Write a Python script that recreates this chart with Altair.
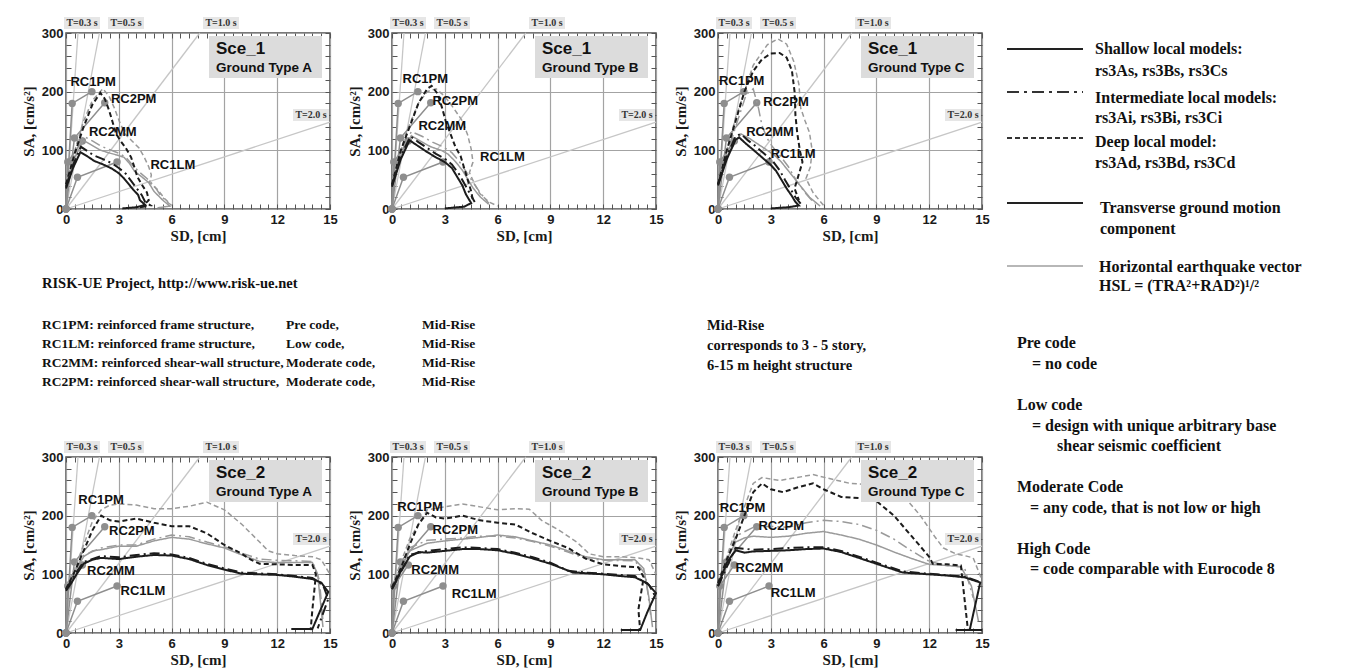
import altair as alt
import pandas as pd

W, H = 264, 176
SANS = "Liberation Sans"
SERIF = "Liberation Serif"

# ---------------- axis ticks ----------------
X_TICKS = [0, 3, 6, 9, 12, 15]
Y_TICKS = [0, 100, 200, 300]
X_MINOR = [0, 0.5, 1, 1.5, 2, 2.5, 3, 3.5, 4, 4.5, 5, 5.5, 6, 6.5, 7, 7.5, 8, 8.5, 9, 9.5,
           10, 10.5, 11, 11.5, 12, 12.5, 13, 13.5, 14, 14.5, 15]
Y_MINOR = [0, 20, 40, 60, 80, 100, 120, 140, 160, 180, 200, 220, 240, 260, 280, 300]

# ---------------- period lines ----------------
PERIOD_T = ["0.3", "0.5", "1.0", "2.0"]
PERIOD_END_SD = [0.68, 1.9, 7.6, 15.0]
PERIOD_END_SA = [300, 300, 300, 148]
PERIOD_LABELS = ["T=0.3 s", "T=0.5 s", "T=1.0 s", "T=2.0 s"]

# ---------------- capacity curves ----------------
CAP_NAMES = ["RC1PM", "RC2PM", "RC2MM", "RC1LM"]
CAP_RC1PM = [(0, 0), (0.35, 180), (1.47, 200)]
CAP_RC2PM = [(0, 0), (0.48, 121), (2.2, 181)]
CAP_RC2MM = [(0, 0), (0.1, 80), (0.93, 116)]
CAP_RC1LM = [(0, 0), (0.65, 54), (2.9, 80)]

# ---------------- demand curves: Sce_1 ----------------
S1A_TRA_SH = [(0, 35), (0.4, 70), (0.82, 97), (1.2, 90), (1.6, 82), (2.1, 76), (2.6, 69), (3.0, 61), (3.3, 52),
              (3.6, 41), (3.85, 32), (4.1, 24), (4.2, 15), (4.5, 7), (4.0, 3), (3.2, 1)]
S1A_TRA_IN = [(0, 38), (0.4, 75), (0.85, 106), (1.2, 99), (1.6, 91), (2.1, 85), (2.6, 78), (3.0, 70), (3.4, 60),
              (3.7, 48), (4.0, 36), (4.3, 24), (4.5, 12), (4.8, 6), (4.2, 3)]
S1A_TRA_DP = [(0, 42), (0.5, 95), (1.0, 140), (1.5, 178), (1.95, 198), (2.2, 188), (2.45, 168), (2.65, 148),
              (2.85, 128), (3.1, 116), (3.4, 104), (3.7, 88), (3.9, 70), (4.05, 55), (4.3, 42), (4.6, 28),
              (4.7, 15), (4.4, 6)]
S1A_HSL_SH = [(0, 40), (0.5, 88), (1.0, 117), (1.4, 110), (1.9, 101), (2.4, 96), (2.9, 92), (3.3, 88), (3.6, 78),
              (3.9, 64), (4.3, 55), (4.7, 45), (5.0, 30), (5.5, 15), (5.9, 5), (5.2, 2)]
S1A_HSL_IN = [(0, 42), (0.5, 93), (1.0, 124), (1.5, 116), (2.0, 107), (2.5, 101), (3.0, 95), (3.4, 88), (3.8, 74),
              (4.2, 62), (4.6, 52), (5.0, 40), (5.4, 22), (5.9, 8)]
S1A_HSL_DP = [(0, 45), (0.5, 100), (1.0, 150), (1.5, 185), (2.1, 205), (2.45, 192), (2.75, 172), (3.05, 148),
              (3.35, 128), (3.75, 116), (4.15, 104), (4.45, 88), (4.7, 72), (4.85, 58), (4.75, 45), (5.2, 33),
              (5.6, 18), (6.0, 6)]

S1B_TRA_SH = [(0, 38), (0.5, 85), (1.0, 117), (1.5, 107), (2.0, 97), (2.5, 88), (3.0, 80), (3.4, 70), (3.7, 55),
              (4.0, 40), (4.2, 25), (4.5, 10), (4.1, 4), (3.0, 1)]
S1B_TRA_IN = [(0, 40), (0.5, 90), (1.05, 124), (1.5, 114), (2.0, 104), (2.5, 94), (3.0, 86), (3.4, 76), (3.8, 60),
              (4.1, 44), (4.4, 28), (4.7, 12)]
S1B_TRA_DP = [(0, 42), (0.5, 100), (1.0, 140), (1.5, 180), (2.0, 205), (2.25, 210), (2.6, 196), (2.85, 172),
              (3.05, 150), (3.35, 126), (3.6, 106), (3.9, 90), (4.1, 70), (4.3, 50), (4.5, 30), (4.6, 14)]
S1B_HSL_SH = [(0, 40), (0.5, 92), (1.1, 125), (1.6, 116), (2.2, 106), (2.8, 100), (3.2, 93), (3.6, 81), (4.0, 66),
              (4.3, 51), (4.6, 36), (5.0, 21), (5.5, 8)]
S1B_HSL_IN = [(0, 42), (0.5, 96), (1.1, 132), (1.7, 124), (2.3, 114), (2.9, 106), (3.4, 96), (3.8, 82), (4.2, 64),
              (4.6, 46), (5.0, 28), (5.5, 10)]
S1B_HSL_DP = [(0, 45), (0.8, 130), (1.5, 180), (2.0, 200), (2.5, 205), (3.0, 192), (3.5, 172), (4.0, 150),
              (4.3, 126), (4.5, 102), (4.6, 80), (4.4, 62), (4.7, 42), (5.0, 26), (5.5, 12), (6.0, 5)]

S1C_TRA_SH = [(0, 40), (0.5, 85), (1.0, 118), (1.2, 122), (1.6, 111), (2.0, 101), (2.5, 88), (3.0, 75), (3.3, 65),
              (3.6, 50), (3.9, 35), (4.2, 22), (4.4, 12), (4.6, 6), (4.0, 3), (3.0, 1)]
S1C_TRA_IN = [(0, 42), (0.5, 90), (1.0, 124), (1.3, 128), (1.7, 117), (2.1, 108), (2.6, 95), (3.1, 82), (3.5, 66),
              (3.8, 50), (4.1, 35), (4.4, 20), (4.7, 9)]
S1C_TRA_DP = [(0, 42), (0.5, 100), (1.0, 150), (1.5, 200), (2.0, 235), (2.5, 255), (3.0, 265), (3.5, 266),
              (3.9, 258), (4.2, 236), (4.35, 200), (4.4, 160), (4.5, 130), (4.65, 100), (4.8, 80), (4.55, 55),
              (4.35, 35), (4.6, 15)]
S1C_HSL_SH = [(0, 40), (0.6, 95), (1.3, 128), (1.8, 120), (2.3, 110), (2.8, 100), (3.2, 92), (3.6, 80), (4.0, 65),
              (4.4, 50), (4.8, 35), (5.2, 20), (5.8, 5)]
S1C_HSL_IN = [(0, 45), (1.0, 140), (1.6, 195), (2.0, 205), (2.3, 172), (2.5, 142), (2.8, 120), (3.1, 106),
              (3.5, 92), (4.0, 72), (4.5, 46), (5.0, 26), (5.5, 9)]
S1C_HSL_DP = [(0, 45), (1.0, 155), (2.0, 245), (2.8, 280), (3.4, 290), (3.9, 281), (4.3, 252), (4.6, 212),
              (4.7, 172), (4.95, 150), (5.2, 130), (5.35, 100), (5.25, 72), (5.0, 52), (5.4, 28), (6.0, 6)]

# ---------------- demand curves: Sce_2 ----------------
S2A_TRA_SH = [(0, 72), (0.3, 85), (0.6, 100), (1.0, 118), (1.5, 125), (2.0, 128), (2.5, 127), (3.0, 126),
              (4.0, 130), (5.0, 133), (6.0, 132), (7.0, 126), (8.0, 116), (9.0, 108), (10.0, 101), (11.0, 100),
              (12.0, 99), (13.0, 96), (14.0, 92), (14.5, 86), (14.9, 70), (14.0, 7), (12.8, 7)]
S2A_TRA_IN = [(0, 74), (0.5, 100), (1.0, 121), (2.0, 131), (3.0, 129), (4.0, 133), (5.0, 136), (6.0, 134),
              (7.0, 128), (8.0, 118), (9.0, 110), (10.0, 103), (12.0, 100), (14.0, 94), (14.6, 82), (14.9, 58),
              (14.3, 8)]
S2A_TRA_DP = [(0, 75), (0.5, 105), (1.0, 140), (1.5, 175), (2.0, 200), (2.5, 192), (3.0, 190), (4.0, 195),
              (5.0, 188), (6.0, 182), (7.0, 182), (8.0, 170), (9.0, 150), (10.0, 135), (10.5, 125), (11.0, 118),
              (12.0, 117), (13.0, 116), (14.0, 116), (14.2, 100), (14.0, 40), (13.9, 5)]
S2A_HSL_SH = [(0, 78), (0.5, 105), (1.0, 130), (1.5, 140), (2.0, 142), (2.5, 145), (3.0, 148), (4.0, 148),
              (5.0, 157), (6.0, 163), (7.0, 160), (8.0, 152), (9.0, 145), (10.0, 133), (11.0, 122), (12.0, 120),
              (13.0, 120), (14.0, 120), (14.3, 100), (14.5, 40), (14.6, 10)]
S2A_HSL_IN = [(0, 80), (1.0, 132), (2.0, 145), (3.0, 150), (4.0, 150), (5.0, 160), (6.0, 167), (7.0, 164),
              (8.0, 155), (9.0, 147), (10.0, 136), (11.0, 126), (12.0, 124), (14.0, 122), (14.4, 90), (14.6, 20)]
S2A_HSL_DP = [(0, 80), (0.5, 110), (1.0, 150), (1.5, 190), (2.0, 210), (2.5, 218), (3.0, 220), (4.0, 218),
              (5.0, 212), (6.0, 212), (7.0, 216), (8.0, 223), (9.0, 210), (10.0, 185), (11.0, 155), (11.5, 140),
              (12.0, 135), (13.0, 132), (14.0, 130), (14.5, 125), (15.0, 100)]

S2B_TRA_SH = [(0, 75), (0.5, 105), (1.0, 130), (1.5, 138), (2.0, 137), (3.0, 140), (4.0, 143), (5.0, 143),
              (6.0, 141), (7.0, 135), (8.0, 127), (9.0, 118), (10.3, 103), (11.0, 102), (12.0, 100), (13.0, 97),
              (13.8, 95), (14.5, 85), (15.0, 68), (14.5, 35), (14.1, 5), (13.0, 5)]
S2B_TRA_IN = [(0, 75), (1.0, 133), (2.0, 140), (3.0, 143), (4.0, 146), (5.0, 145), (6.0, 143), (7.0, 137),
              (8.0, 129), (9.0, 120), (10.0, 106), (11.0, 103), (12.0, 101), (13.8, 97), (14.6, 82), (15.0, 60)]
S2B_TRA_DP = [(0, 78), (0.5, 110), (1.0, 150), (1.5, 185), (2.0, 205), (2.5, 197), (3.0, 195), (4.0, 200),
              (5.0, 192), (6.0, 188), (7.0, 185), (8.0, 170), (9.0, 157), (10.0, 145), (11.0, 127), (12.0, 117),
              (13.0, 114), (14.0, 112), (14.3, 95), (14.0, 40), (14.1, 5)]
S2B_HSL_SH = [(0, 78), (0.5, 110), (1.0, 140), (2.0, 153), (3.0, 157), (4.0, 160), (5.0, 163), (6.0, 167),
              (7.0, 164), (8.0, 157), (9.0, 150), (10.0, 140), (11.0, 130), (12.0, 125), (13.0, 125), (13.8, 125),
              (14.3, 110), (14.6, 60), (14.8, 10)]
S2B_HSL_IN = [(0, 80), (1.0, 145), (2.0, 158), (3.0, 160), (4.0, 162), (5.0, 165), (6.0, 165), (7.0, 162),
              (8.0, 156), (9.0, 148), (10.0, 138), (11.0, 127), (12.0, 124), (13.8, 123), (14.4, 100), (14.7, 30)]
S2B_HSL_DP = [(0, 80), (1.0, 160), (2.0, 210), (3.0, 215), (4.0, 220), (5.0, 215), (6.0, 210), (7.0, 212),
              (7.8, 211), (8.5, 192), (9.5, 175), (10.5, 155), (11.2, 135), (12.0, 130), (13.0, 130), (14.0, 128),
              (14.6, 125), (15.0, 100)]

S2C_TRA_SH = [(0, 80), (0.5, 120), (1.0, 141), (1.5, 137), (2.0, 139), (3.0, 140), (4.0, 141), (5.0, 143),
              (6.0, 144), (7.0, 138), (8.0, 128), (9.0, 118), (10.5, 103), (12.0, 100), (13.0, 98), (14.0, 95),
              (14.9, 86), (14.3, 5), (13.5, 5), (15.0, 5)]
S2C_TRA_IN = [(0, 80), (1.0, 145), (2.0, 142), (3.0, 143), (4.0, 145), (5.0, 146), (6.0, 146), (7.0, 140),
              (8.0, 130), (9.0, 120), (10.5, 105), (12.0, 101), (14.0, 96), (14.8, 88)]
S2C_TRA_DP = [(0, 85), (0.5, 125), (1.0, 160), (1.5, 200), (2.0, 240), (2.5, 255), (3.0, 245), (3.7, 240),
              (4.5, 248), (5.4, 255), (6.0, 245), (7.0, 232), (8.0, 230), (9.0, 225), (10.0, 200), (11.0, 165),
              (12.0, 130), (12.2, 118), (13.0, 117), (13.8, 115), (14.0, 60), (14.2, 5)]
S2C_HSL_SH = [(0, 82), (0.5, 125), (1.0, 155), (1.5, 162), (2.0, 165), (3.0, 163), (4.0, 165), (5.0, 170),
              (6.0, 173), (7.0, 167), (8.0, 160), (9.0, 150), (10.0, 138), (11.0, 127), (12.0, 117), (13.0, 115),
              (13.8, 113), (14.4, 80), (14.8, 20)]
S2C_HSL_IN = [(0, 85), (1.0, 165), (2.0, 180), (3.0, 182), (4.0, 180), (5.0, 188), (6.0, 192), (7.0, 190),
              (8.0, 185), (9.0, 175), (10.0, 160), (11.0, 140), (12.0, 122), (13.0, 115), (14.0, 112), (14.5, 60)]
S2C_HSL_DP = [(0, 85), (1.0, 175), (2.0, 255), (2.5, 265), (3.5, 260), (4.5, 265), (5.4, 270), (6.5, 262),
              (7.5, 255), (8.5, 253), (9.5, 252), (10.5, 235), (11.5, 200), (12.3, 165), (12.8, 145), (13.5, 135),
              (14.0, 132), (14.5, 128), (15.0, 90)]

# ---------------- building type labels (text, SD, SA) ----------------
LAB_S1A = [("RC1PM", 0.25, 216), ("RC2PM", 2.55, 187), ("RC2MM", 1.3, 131), ("RC1LM", 4.8, 75)]
LAB_S1B = [("RC1PM", 0.6, 222), ("RC2PM", 2.3, 184), ("RC2MM", 1.5, 141), ("RC1LM", 5.0, 88)]
LAB_S1C = [("RC1PM", 0.05, 219), ("RC2PM", 2.57, 182), ("RC2MM", 1.6, 131), ("RC1LM", 3.0, 93)]
LAB_S2A = [("RC1PM", 0.7, 227), ("RC2PM", 2.45, 174), ("RC2MM", 1.2, 106), ("RC1LM", 3.1, 71)]
LAB_S2B = [("RC1PM", 0.3, 214), ("RC2PM", 2.3, 176), ("RC2MM", 1.1, 108), ("RC1LM", 3.4, 66)]
LAB_S2C = [("RC1PM", 0.1, 213), ("RC2PM", 2.3, 182), ("RC2MM", 1.0, 110), ("RC1LM", 3.0, 69)]

# ---------------- texts ----------------
PANEL_SCE = ["Sce_1", "Sce_1", "Sce_1", "Sce_2", "Sce_2", "Sce_2"]
PANEL_GT = ["Ground Type A", "Ground Type B", "Ground Type C", "Ground Type A", "Ground Type B", "Ground Type C"]
PROJECT = "RISK-UE Project, http://www.risk-ue.net"
RC_DESC = ["RC1PM: reinforced frame structure,", "RC1LM: reinforced frame structure,",
           "RC2MM: reinforced shear-wall structure,", "RC2PM: reinforced shear-wall structure,"]
RC_CODE = ["Pre code,", "Low code,", "Moderate code,", "Moderate code,"]
RC_RISE = ["Mid-Rise", "Mid-Rise", "Mid-Rise", "Mid-Rise"]
MIDRISE = ["Mid-Rise", "corresponds to 3 - 5 story,", "6-15 m height structure"]
LEGEND_TEXT = ["Shallow local models:", "rs3As, rs3Bs, rs3Cs", "Intermediate local models:", "rs3Ai, rs3Bi, rs3Ci",
               "Deep local model:", "rs3Ad, rs3Bd, rs3Cd", "Transverse ground motion", "component",
               "Horizontal earthquake vector", "HSL = (TRA²+RAD²)¹/²"]
CODE_TEXT = ["Pre code", "=  no code", "Low code", "=  design with unique arbitrary base",
             "shear seismic coefficient", "Moderate Code", "= any code, that is not low or high",
             "High Code", "= code comparable with Eurocode 8"]

ONE = pd.DataFrame({"a": [0]})
XS = alt.Scale(domain=[0, 15], nice=False, zero=False)
YS = alt.Scale(domain=[0, 300], nice=False, zero=False)
DASHES = alt.Scale(domain=["s", "i", "d"], range=[[1, 0], [10, 4, 2, 4], [5, 3]])


def df_pairs(pairs, **cols):
    d = pd.DataFrame(pairs, columns=["sd", "sa"])
    d["i"] = range(len(d))
    for k, v in cols.items():
        d[k] = v
    return d


def ax_main_x():
    return alt.Axis(orient="bottom", values=X_TICKS, title="SD, [cm]", grid=True, gridColor="#a3a3a3",
                    gridWidth=1.2, ticks=False, domain=False, labelFlush=False, labelFont=SANS,
                    labelFontWeight="bold", labelFontSize=13, labelColor="#1a1a1a", labelPadding=4,
                    titleFont=SERIF, titleFontWeight="bold", titleFontSize=15, titleColor="#1a1a1a",
                    titlePadding=2)


def ax_main_y():
    return alt.Axis(orient="left", values=Y_TICKS, title="SA, [cm/s²]", grid=True, gridColor="#a3a3a3",
                    gridWidth=1.2, ticks=False, domain=False, labelFont=SANS, labelFontWeight="bold",
                    labelFontSize=13, labelColor="#1a1a1a", labelPadding=3, titleFont=SERIF,
                    titleFontWeight="bold", titleFontSize=15, titleColor="#1a1a1a", titlePadding=5)


def ax_minor_x(orient):
    return alt.Axis(orient=orient, offset=-H, values=X_MINOR, labels=False, grid=False, domain=False,
                    tickSize=5, tickColor="#555555", tickWidth=1, title=None)


def ax_minor_y(orient):
    return alt.Axis(orient=orient, offset=-W, values=Y_MINOR, labels=False, grid=False, domain=False,
                    tickSize=5, tickColor="#555555", tickWidth=1, title=None)


def txt(s, x, y, size, font=SERIF, align="left", color="#111111"):
    return alt.Chart(ONE).mark_text(text=s, align=align, baseline="middle", font=font, fontWeight="bold",
                                    fontSize=size, color=color).encode(x=alt.value(x), y=alt.value(y))


def box(x1, x2, y1, y2, color):
    return alt.Chart(ONE).mark_rect(color=color).encode(x=alt.value(x1), x2=alt.value(x2),
                                                        y=alt.value(y1), y2=alt.value(y2))


def panel(curves, labels, sce, gtype):
    per = pd.concat([df_pairs([(0, 0), (sd, sa)], T=t)
                     for t, sd, sa in zip(PERIOD_T, PERIOD_END_SD, PERIOD_END_SA)])
    l_per = alt.Chart(per).mark_line(color="#c6c6c6", strokeWidth=1.3).encode(
        x=alt.X("sd:Q", scale=XS, axis=ax_main_x()),
        y=alt.Y("sa:Q", scale=YS, axis=ax_main_y()),
        detail="T:N", order="i:Q")

    caps = pd.concat([df_pairs(p, b=n) for n, p in zip(CAP_NAMES, [CAP_RC1PM, CAP_RC2PM, CAP_RC2MM, CAP_RC1LM])])
    l_cap = alt.Chart(caps).mark_line(color="#8e8e8e", strokeWidth=1.5).encode(
        x=alt.X("sd:Q", scale=XS, axis=ax_minor_x("bottom")),
        y=alt.Y("sa:Q", scale=YS, axis=ax_minor_y("right")),
        detail="b:N", order="i:Q")
    l_pts = alt.Chart(caps).mark_circle(color="#8e8e8e", size=55, opacity=1).encode(
        x=alt.X("sd:Q", scale=XS, axis=ax_minor_x("top")),
        y=alt.Y("sa:Q", scale=YS, axis=ax_minor_y("left")))

    dem = pd.concat([df_pairs(p, comp=c, depth=d, key=c + d) for (c, d), p in curves])
    enc = dict(x=alt.X("sd:Q", scale=XS, axis=None), y=alt.Y("sa:Q", scale=YS, axis=None),
               strokeDash=alt.StrokeDash("depth:N", scale=DASHES, legend=None),
               detail="key:N", order="i:Q")
    l_hsl = alt.Chart(dem).transform_filter(alt.datum.comp == "HSL").mark_line(
        color="#9a9a9a", strokeWidth=1.5).encode(**enc)
    l_tra = alt.Chart(dem).transform_filter(alt.datum.comp == "TRA").mark_line(
        color="#1c1c1c", strokeWidth=2).encode(**enc)

    lab = pd.DataFrame(labels, columns=["t", "sd", "sa"])
    l_lab = alt.Chart(lab).mark_text(align="left", baseline="middle", font=SANS, fontWeight="bold",
                                     fontSize=13, color="#111111").encode(
        x=alt.X("sd:Q", scale=XS, axis=None), y=alt.Y("sa:Q", scale=YS, axis=None), text="t:N")

    extra = [box(143, 256, 3, 45, "#dcdcdc"),
             txt(sce, 150, 16, 17, font=SANS),
             txt(gtype, 150, 35, 13.5, font=SANS)]
    for s, x, y in zip(PERIOD_LABELS, [16, 60, 155, 245], [-10, -10, -10, 82]):
        extra.append(box(x - 18, x + 18, y - 6, y + 6, "#e6e6e6"))
        extra.append(txt(s, x, y, 10, align="center", color="#333333"))

    return alt.layer(l_per, l_cap, l_pts, l_hsl, l_tra, l_lab, *extra).resolve_axis(
        x="independent", y="independent").properties(
        width=W, height=H, view=alt.ViewBackground(stroke="#4d4d4d", strokeWidth=1.5))


def curves_of(p):
    g = globals()
    return [((c, d), g[f"{p}_{c}_{dd}"]) for c in ["HSL", "TRA"] for d, dd in [("s", "SH"), ("i", "IN"), ("d", "DP")]]


panels = [panel(curves_of(p), lab, s, gt) for p, lab, s, gt in
          zip(["S1A", "S1B", "S1C", "S2A", "S2B", "S2C"],
              [LAB_S1A, LAB_S1B, LAB_S1C, LAB_S2A, LAB_S2B, LAB_S2C], PANEL_SCE, PANEL_GT)]

NOVIEW = alt.ViewBackground(strokeOpacity=0)


def text_cell(layers, h):
    return alt.layer(*layers).properties(width=W, height=h, view=NOVIEW)


# middle text (origin at column 1, just below top row)
mid_layers = [txt(PROJECT, -24, 75, 14.5)]
for k, y in enumerate([116, 135, 154, 173]):
    mid_layers += [txt(RC_DESC[k], -24, y, 13.5), txt(RC_CODE[k], 220, y, 13.5), txt(RC_RISE[k], 356, y, 13.5)]
mid1 = text_cell(mid_layers, 248)
mid3 = text_cell([txt(s, -11, y, 14.5) for s, y in zip(MIDRISE, [117, 137, 157])], 248)
blank_a = text_cell([txt(" ", 0, 0, 10)], 248)
blank_b = text_cell([txt(" ", 0, 0, 10)], H)

# legend (origin at column 4, top row)
leg_layers = []
for y, dash, col, sw in zip([16, 59, 105, 170, 233],
                            [[1, 0], [12, 5, 3, 5], [5, 3], [1, 0], [1, 0]],
                            ["#222222", "#333333", "#333333", "#222222", "#a0a0a0"],
                            [2, 2, 2, 2.2, 1.3]):
    leg_layers.append(alt.Chart(ONE).mark_rule(color=col, strokeWidth=sw, strokeDash=dash).encode(
        x=alt.value(-37), x2=alt.value(39), y=alt.value(y)))
for s, x, y in zip(LEGEND_TEXT, [51, 51, 51, 51, 51, 51, 56, 56, 55, 55],
                   [16, 38, 65, 85, 109, 130, 175, 196, 234, 253]):
    leg_layers.append(txt(s, x, y, 16))
legend = text_cell(leg_layers, H)

codes = text_cell([txt(s, x, y, 16) for s, x, y in zip(
    CODE_TEXT, [-27, -12, -27, -12, 13, -27, -14, -27, -14],
    [134, 155, 196, 217, 237, 278, 299, 340, 360])], 248)

chart = alt.concat(
    panels[0], panels[1], panels[2], legend,
    mid1, blank_a, mid3, codes,
    panels[3], panels[4], panels[5], blank_b,
    columns=4, spacing={"row": 0, "column": 62}, bounds="flush", align="each",
).properties(
    padding={"left": 20, "top": 16, "right": 0, "bottom": 0}, background="white"
).configure_view(stroke="#4d4d4d", strokeWidth=1.5)

chart.save("out.html", embed_options={"renderer": "svg", "actions": False})
